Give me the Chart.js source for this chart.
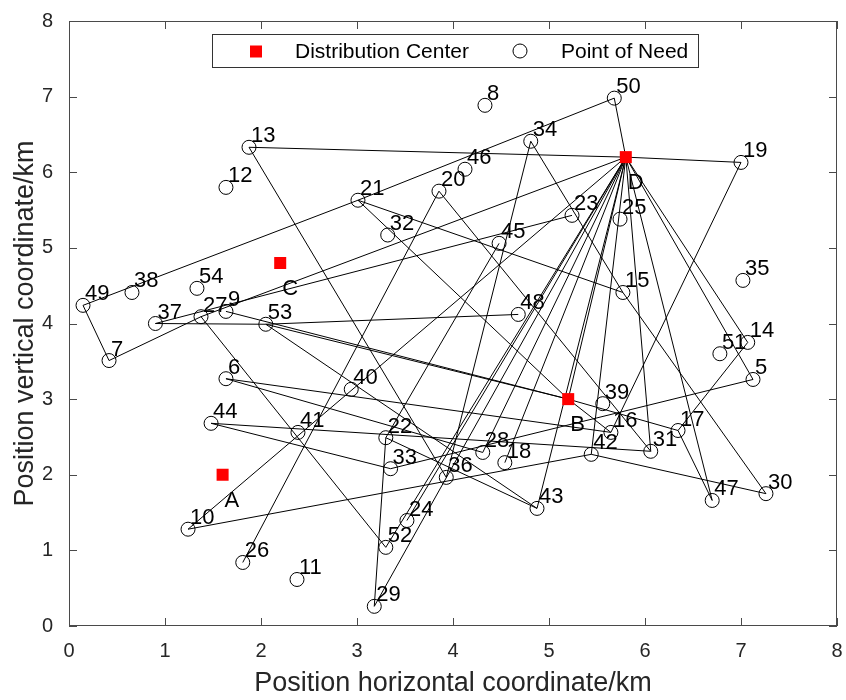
<!DOCTYPE html>
<html><head><meta charset="utf-8">
<script src="https://cdn.jsdelivr.net/npm/chart.js@4.4.0/dist/chart.umd.min.js"></script>
<style>html,body{margin:0;padding:0;background:#fff}</style>
</head><body>
<canvas id="c" width="846" height="700"></canvas>
<script>
// Points of need
const pointLabels = ['5','6','7','8','9','10','11','12','13','14','15','16','17','18','19','20','21','22','23','24','25','26','27','28','29','30','31','32','33','34','35','36','37','38','39','40','41','42','43','44','45','46','47','48','49','50','51','52','53','54'];
const pointX = [7.125,1.635,0.417,4.333,1.635,1.24,2.375,1.635,1.875,7.07,5.77,5.645,6.344,4.54,7.0,3.854,3.01,3.30,5.24,3.52,5.74,1.81,1.375,4.31,3.18,7.26,6.06,3.32,3.35,4.81,7.02,3.93,0.90,0.656,5.56,2.94,2.385,5.44,4.875,1.48,4.48,4.125,6.70,4.68,0.146,5.68,6.78,3.30,2.05,1.333];
const pointY = [3.26,3.27,3.51,6.885,4.16,1.28,0.615,5.80,6.33,3.75,4.41,2.56,2.585,2.16,6.13,5.75,5.63,2.49,5.43,1.395,5.38,0.84,4.09,2.295,0.26,1.75,2.31,5.17,2.08,6.41,4.57,1.965,4.0,4.41,2.94,3.13,2.56,2.27,1.555,2.68,5.06,6.04,1.66,4.12,4.24,6.98,3.60,1.04,3.99,4.465];
// Distribution centers
const depotLabels = ['A','B','C','D'];
const depotX = [1.6,5.2,2.2,5.8];
const depotY = [2.0,3.0,4.8,6.2];
// Route segments (from -> to)
const routeFrom = ['49','7','49','21','50','13','D','19','13','37','53','37','27','9','53','53','27','22','29','21','21','34','15','42','10','10','20','D','D','D','B','14','D','D','17','D','D','44','44','33','6','6','34','D','D','D','D','45','20','22','B'];
const routeTo   = ['7','27','21','50','D','D','19','16','36','53','48','23','D','B','B','43','52','29','D','B','15','15','30','30','42','D','26','24','52','B','17','17','14','5','47','47','31','31','33','5','16','28','36','42','18','28','43','22','31','43','16'];
const xTicks = [0,1,2,3,4,5,6,7,8];
const yTicks = [0,1,2,3,4,5,6,7,8];

const FONT = "'Liberation Sans', Arial, sans-serif";
function coord(lbl){
  const i = pointLabels.indexOf(lbl);
  if (i >= 0) return {x: pointX[i], y: pointY[i]};
  const j = depotLabels.indexOf(lbl);
  return {x: depotX[j], y: depotY[j]};
}
const routeData = [];
routeFrom.forEach((f, k) => {
  routeData.push(coord(f), coord(routeTo[k]), {x: null, y: null});
});

const decor = {
  id: 'decor',
  afterDatasetsDraw(chart) {
    const {ctx, chartArea: a, scales: {x, y}} = chart;
    ctx.save();
    ctx.strokeStyle = '#4a4a4a';
    ctx.lineWidth = 1;
    ctx.strokeRect(a.left + 0.5, a.top + 0.5, a.right - a.left - 1, a.bottom - a.top - 1);
    const TL = 8;
    ctx.beginPath();
    xTicks.forEach(v => {
      const px = Math.round(x.getPixelForValue(v)) + 0.5;
      ctx.moveTo(px, a.bottom); ctx.lineTo(px, a.bottom - TL);
      ctx.moveTo(px, a.top); ctx.lineTo(px, a.top + TL);
    });
    yTicks.forEach(v => {
      const py = Math.round(y.getPixelForValue(v)) + 0.5;
      ctx.moveTo(a.left, py); ctx.lineTo(a.left + TL, py);
      ctx.moveTo(a.right, py); ctx.lineTo(a.right - TL, py);
    });
    ctx.stroke();
    ctx.fillStyle = '#000';
    ctx.font = '22px ' + FONT;
    ctx.textAlign = 'left';
    ctx.textBaseline = 'alphabetic';
    pointLabels.forEach((t, i) => {
      ctx.fillText(t, x.getPixelForValue(pointX[i]) + 2, y.getPixelForValue(pointY[i]) - 5);
    });
    depotLabels.forEach((t, i) => {
      ctx.fillText(t, x.getPixelForValue(depotX[i]) + 2, y.getPixelForValue(depotY[i]) + 32);
    });
    const lx = 212, ly = 34, lw = 486, lh = 33;
    ctx.fillStyle = '#fff';
    ctx.fillRect(lx, ly, lw, lh);
    ctx.strokeStyle = '#333';
    ctx.strokeRect(lx + 0.5, ly + 0.5, lw, lh);
    ctx.fillStyle = '#ff0000';
    ctx.fillRect(250, 45.5, 12, 12);
    ctx.beginPath();
    ctx.strokeStyle = '#000';
    ctx.arc(520, 51, 7, 0, Math.PI * 2);
    ctx.stroke();
    ctx.fillStyle = '#000';
    ctx.font = '21px ' + FONT;
    ctx.textBaseline = 'middle';
    ctx.fillText(chart.data.datasets[1].label, 295, 52);
    ctx.fillText(chart.data.datasets[2].label, 561, 52);
    ctx.restore();
  }
};

new Chart(document.getElementById('c'), {
  type: 'scatter',
  data: {
    datasets: [
      {label: 'Routes', data: routeData, showLine: true, spanGaps: false, borderColor: '#000', borderWidth: 1, pointRadius: 0, pointHoverRadius: 0, order: 3},
      {label: 'Distribution Center', data: depotX.map((v, i) => ({x: v, y: depotY[i]})), pointStyle: 'rect', pointRadius: 8.5, backgroundColor: '#ff0000', borderColor: '#ff0000', borderWidth: 0, order: 1},
      {label: 'Point of Need', data: pointX.map((v, i) => ({x: v, y: pointY[i]})), pointStyle: 'circle', pointRadius: 7, backgroundColor: 'rgba(0,0,0,0)', borderColor: '#000', borderWidth: 1, order: 2}
    ]
  },
  options: {
    responsive: false,
    animation: false,
    layout: {padding: {top: 21, right: 9, left: 0, bottom: 0}},
    plugins: {legend: {display: false}, tooltip: {enabled: false}},
    scales: {
      x: {
        type: 'linear', min: 0, max: 8,
        afterBuildTicks: s => { s.ticks = xTicks.map(v => ({value: v})); },
        afterFit: s => { s.height = 74; s.paddingLeft = 0; s.paddingRight = 0; },
        grid: {display: false, drawTicks: false},
        border: {display: false},
        ticks: {font: {size: 20, family: FONT}, color: '#262626', padding: 13},
        title: {display: true, text: 'Position horizontal coordinate/km', font: {size: 27, family: FONT}, color: '#262626', padding: {top: 0, bottom: 0}}
      },
      y: {
        type: 'linear', min: 0, max: 8,
        afterBuildTicks: s => { s.ticks = yTicks.map(v => ({value: v})); },
        afterFit: s => { s.width = 69; s.paddingTop = 0; s.paddingBottom = 0; },
        grid: {display: false, drawTicks: false},
        border: {display: false},
        ticks: {font: {size: 20, family: FONT}, color: '#262626', padding: 16},
        title: {display: true, text: 'Position vertical coordinate/km', font: {size: 27, family: FONT}, color: '#262626', padding: {top: 9, bottom: 0}}
      }
    }
  },
  plugins: [decor]
});
</script>
</body></html>
